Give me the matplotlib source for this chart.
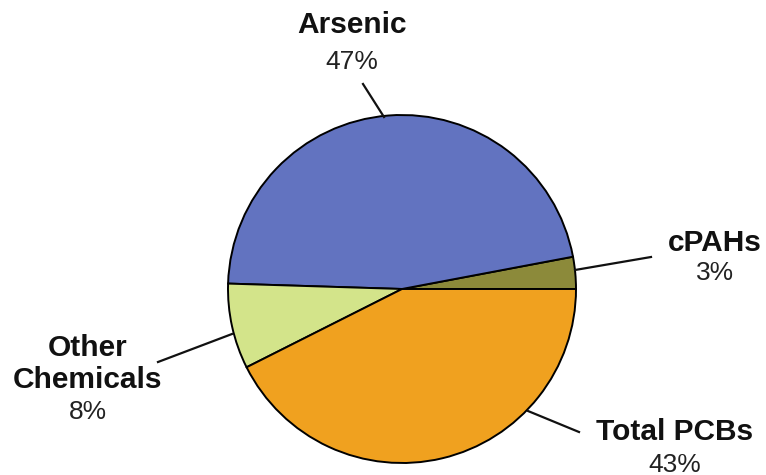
import matplotlib.pyplot as plt

# share of each chemical group
labels = ["cPAHs", "Arsenic", "Other\nChemicals", "Total PCBs"]
percents = [3, 47, 8, 43]
colors = ["#8c8a3a", "#6273c0", "#d3e48a", "#f0a11f"]

plt.rcParams["font.family"] = ["Liberation Sans", "DejaVu Sans"]

fig = plt.figure(figsize=(7.66, 4.75), dpi=100)
ax = fig.add_axes([0, 0, 1, 1])

# pixel-style coordinates, y measured from the top
H = 475
cx, cy, r = 402, 289, 174

ax.pie(percents, colors=colors, startangle=0, counterclock=True,
       center=(cx, H - cy), radius=r, frame=True,
       wedgeprops=dict(edgecolor="black", linewidth=1.4))
ax.set_aspect("equal")
ax.axis("off")
ax.set_xlim(0, 766)
ax.set_ylim(0, 475)

# (label position, percent position, leader line start, leader line end)
placements = {
    "cPAHs": ((715, 243), (715, 273), (575, 270), (651, 257)),
    "Arsenic": ((352, 25), (352, 62), (384, 117), (363, 84)),
    "Other\nChemicals": ((88, 364), (88, 412), (232, 334), (158, 362)),
    "Total PCBs": ((675, 432), (675, 465), (528, 411), (579, 432)),
}

for label, pct in zip(labels, percents):
    (lx, ly), (px, py), (ax0, ay0), (ax1, ay1) = placements[label]
    ax.text(lx, H - ly, label, ha="center", va="center", fontsize=21.5,
            fontweight="bold", color="#111111", linespacing=1.15)
    ax.text(px, H - py, "%d%%" % pct, ha="center", va="center",
            fontsize=19, color="#222222")
    ax.plot([ax0, ax1], [H - ay0, H - ay1], color="#111111", linewidth=1.6)

fig.savefig("out.png", dpi=100)
